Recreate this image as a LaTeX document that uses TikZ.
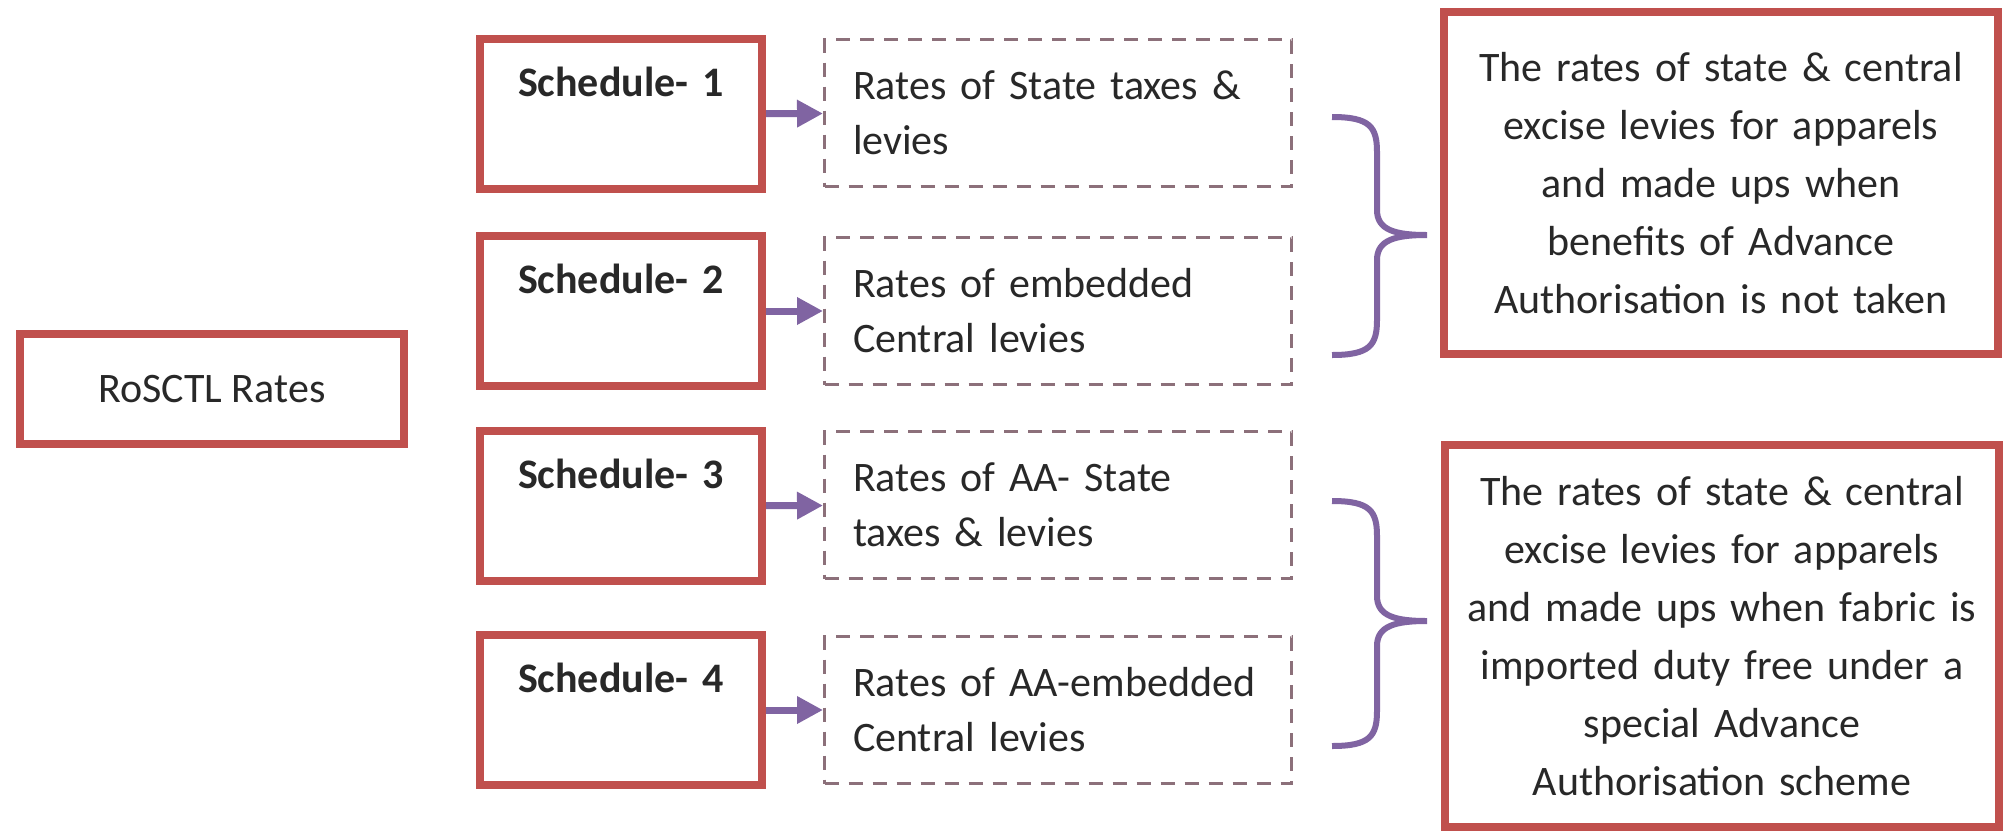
\documentclass[tikz,border=0pt]{standalone}
\usepackage{fontspec}
\setmainfont{Carlito}
\usepackage{tikz}
\usetikzlibrary{arrows.meta}
\definecolor{boxred}{RGB}{192, 80, 77}
\definecolor{dashgrey}{RGB}{140, 112, 122}
\definecolor{brpurple}{RGB}{128, 100, 162}
\definecolor{txt}{RGB}{40, 40, 40}

\begin{document}
\begin{tikzpicture}[
   x=1pt, y=-1pt,
   text=txt,
   rootbox/.style={rectangle, draw=boxred, fill=white, line width=8, inner sep=0,
                   minimum width=384, minimum height=110,
                   font=\fontsize{42}{57}\selectfont},
   schedbox/.style={rectangle, draw=boxred, fill=white, line width=8, inner xsep=38,
                    inner ysep=0, minimum width=282, minimum height=150,
                    text width=206, align=left,
                    font=\fontsize{42}{57}\selectfont\bfseries},
   ratebox/.style={rectangle, draw=dashgrey, line width=3, dash pattern=on 14pt off 10pt,
                   inner xsep=28, inner ysep=0, minimum width=467, minimum height=147,
                   text width=410, align=left,
                   font=\fontsize{42}{55}\selectfont},
   notebox/.style={rectangle, draw=boxred, fill=white, line width=8, inner sep=0,
                   minimum width=554, text width=520, align=center,
                   font=\fontsize{42}{58}\selectfont},
   link/.style={-{Triangle[length=26pt, width=26pt]}, draw=brpurple, line width=7},
   curly/.style={draw=brpurple, line width=6}
  ]

  % Column positions
  \pgfmathsetmacro{\cs}{621}
  \pgfmathsetmacro{\cr}{1058}

  \path[fill=white, use as bounding box] (0, 0) rectangle (2005, 836);

  \node (root) at (212, 389) [rootbox] { RoSCTL Rates };

  \node (s1) at (\cs, 114) [schedbox] { \strut Schedule- 1\\ \strut };
  \node (s2) at (\cs, 311) [schedbox] { \strut Schedule- 2\\ \strut };
  \node (s3) at (\cs, 506) [schedbox] { \strut Schedule- 3\\ \strut };
  \node (s4) at (\cs, 710) [schedbox] { \strut Schedule- 4\\ \strut };

  \node (r1) at (\cr, 113) [ratebox] { Rates of State taxes \&\\ levies };
  \node (r2) at (\cr, 311) [ratebox] { Rates of embedded\\ Central levies };
  \node (r3) at (\cr, 505) [ratebox] { Rates of AA- State\\ taxes \& levies };
  \node (r4) at (\cr, 710) [ratebox] { Rates of AA-embedded\\ Central levies };

  \node (n1) at (1721, 183) [notebox, minimum height=342]
    { The rates of state \& central\\ excise levies for apparels\\ and made ups when\\
      benefits of Advance\\ Authorisation is not taken };
  \node (n2) at (1722, 636) [notebox, minimum height=382]
    { The rates of state \& central\\ excise levies for apparels\\ and made ups when fabric is\\
      imported duty free under a\\ special Advance\\ Authorisation scheme };

  \foreach \B/\E in {s1/r1, s2/r2, s3/r3, s4/r4} {
    \draw[link] (\B) -- (\E);
  }

  % braces: top tip / point / bottom tip
  \foreach \t/\m/\b in {117/235/355, 501/621/746} {
    \draw[curly]
      (1332, \t) .. controls (1370, \t) and (1377, \t + 10) .. (1377, \t + 35)
      -- (1377, \m - 25) .. controls (1377, \m - 5) and (1395, \m) .. (1427, \m)
      .. controls (1395, \m) and (1377, \m + 5) .. (1377, \m + 25)
      -- (1377, \b - 35) .. controls (1377, \b - 10) and (1370, \b) .. (1332, \b);
  }

\end{tikzpicture}
\end{document}
